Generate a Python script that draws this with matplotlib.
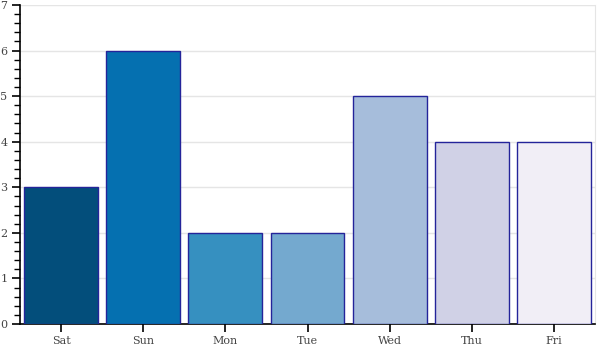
import matplotlib
matplotlib.use("Agg")
import matplotlib.pyplot as plt
from matplotlib.ticker import MultipleLocator

days = ["Sat", "Sun", "Mon", "Tue", "Wed", "Thu", "Fri"]
counts = [3, 6, 2, 2, 5, 4, 4]
colors = ["#034e7b", "#0570b0", "#3690c0", "#74a9cf", "#a6bddb", "#d0d1e6", "#f1eef6"]

fig = plt.figure(figsize=(6, 3.5), dpi=100)
ax = fig.add_axes([20 / 600, 26 / 350, 575 / 600, 319 / 350])

x = range(len(days))
ax.bar(x, counts, width=0.9, color=colors, edgecolor="#24249a", linewidth=1.0, zorder=3)

ax.set_xlim(-0.5, len(days) - 0.5)
ax.set_ylim(0, 7)
ax.set_xticks(list(x))
ax.set_xticklabels(days)
ax.yaxis.set_major_locator(MultipleLocator(1))
ax.yaxis.set_minor_locator(MultipleLocator(0.2))

ax.grid(axis="y", color="#e5e5e5", linewidth=1, zorder=0)
ax.spines["top"].set_visible(False)
ax.spines["right"].set_color("#e5e5e5")
ax.spines["left"].set_linewidth(1.2)
ax.spines["bottom"].set_linewidth(1.2)

ax.tick_params(axis="both", which="major", length=6, width=1.2, labelsize=8, labelcolor="#444444")
ax.tick_params(axis="y", which="minor", length=4, width=1)
ax.tick_params(axis="x", which="minor", length=0)
for lab in ax.get_xticklabels() + ax.get_yticklabels():
    lab.set_family("DejaVu Serif")
ax.tick_params(axis="x", pad=3)
ax.tick_params(axis="y", pad=3)

fig.savefig("out.png", dpi=100)
